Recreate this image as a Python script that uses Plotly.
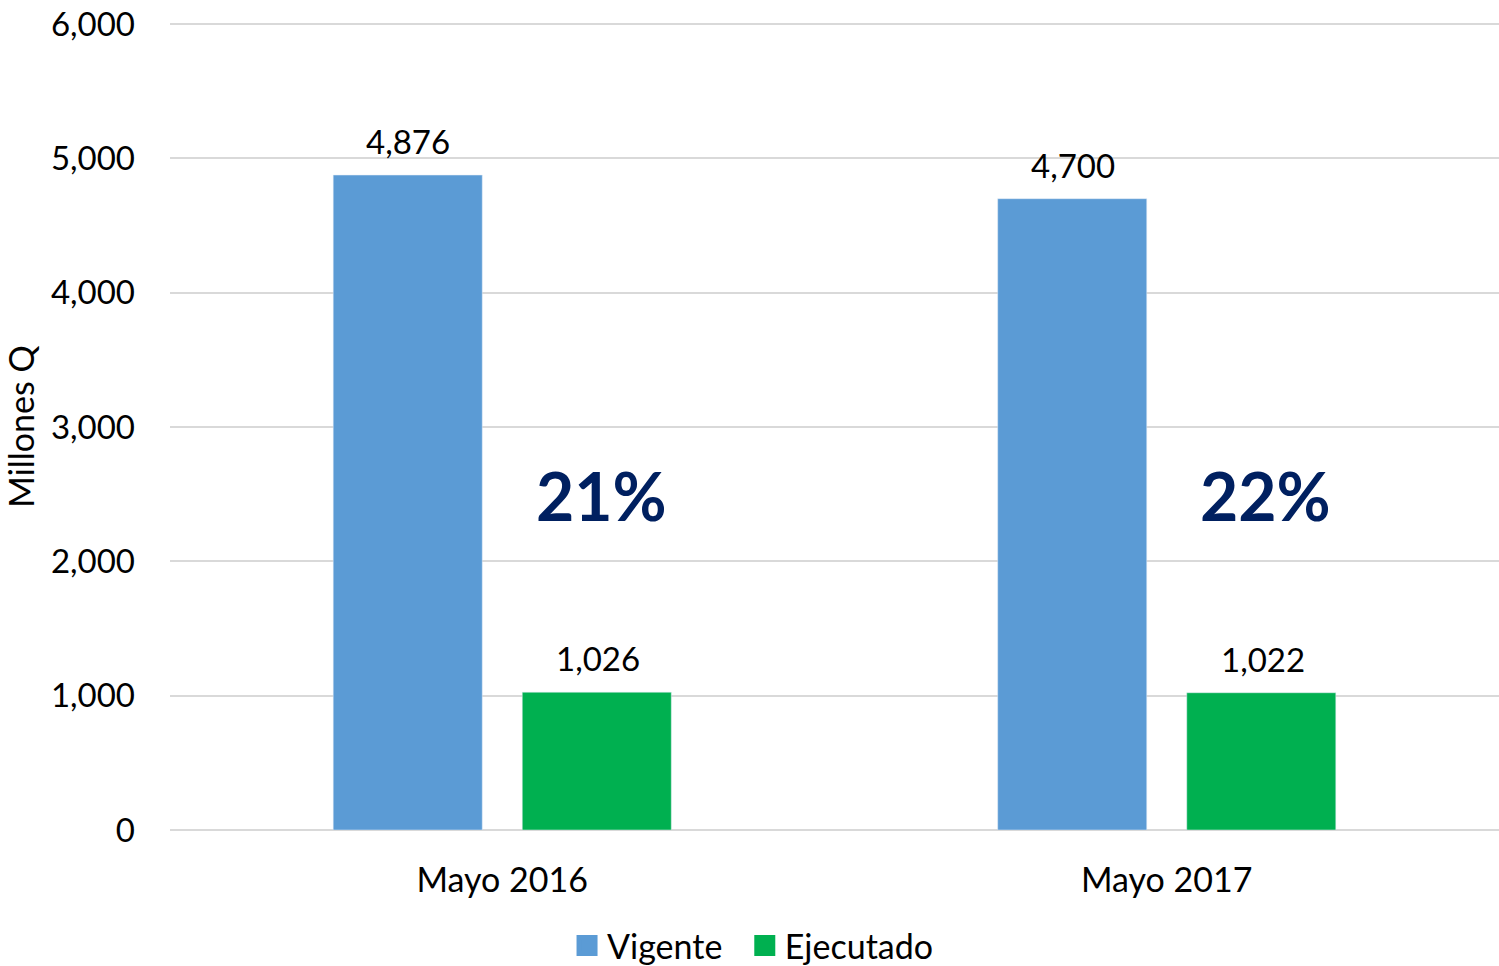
import plotly.graph_objects as go

categories = ["Mayo 2016", "Mayo 2017"]
vigente = [4876, 4700]
ejecutado = [1026, 1022]
percent_labels = ["21%", "22%"]
percent_y = [2490, 2490]

FONT = "Lato"
BLUE = "#5B9BD5"
GREEN = "#00B050"

fig = go.Figure()
fig.add_trace(go.Bar(name="Vigente", x=categories, y=vigente, marker_color=BLUE,
                     showlegend=False))
fig.add_trace(go.Bar(name="Ejecutado", x=categories, y=ejecutado, marker_color=GREEN,
                     showlegend=False))
# legend-only entries with square swatches
for name, col in [("Vigente\u00a0\u00a0", BLUE), ("Ejecutado", GREEN)]:
    fig.add_trace(go.Scatter(
        name=name, x=[None], y=[None], mode="markers",
        marker=dict(symbol="square", size=16, color=col,
                    line=dict(color=col, width=5)),
        showlegend=True,
    ))

# data labels above bars
for series, shift in [(vigente, -94), (ejecutado, 96)]:
    for c, v in zip(categories, series):
        fig.add_annotation(x=c, y=v, text=f"{v:,}", showarrow=False,
                           xshift=shift, yanchor="bottom", yshift=12,
                           font=dict(size=33, color="#000000", family=FONT))

for c, lab, yy in zip(categories, percent_labels, percent_y):
    fig.add_annotation(x=c, y=yy, text=f"<b>{lab}</b>", showarrow=False,
                       xshift=99, font=dict(size=66, color="#002060", family=FONT))

fig.update_layout(
    width=1499, height=966,
    margin=dict(l=170, r=0, t=23, b=136, autoexpand=False),
    paper_bgcolor="white", plot_bgcolor="white",
    barmode="group", bargap=0.431, bargroupgap=0.2116,
    font=dict(family=FONT, size=33, color="#000000"),
    showlegend=True,
    legend=dict(orientation="h", xref="paper", yref="paper",
                x=0.4387, xanchor="center", y=-0.1437, yanchor="middle",
                font=dict(size=34, family=FONT), itemwidth=30,
                itemsizing="trace", tracegroupgap=0),
    yaxis=dict(range=[0, 6008], tickvals=[0, 1000, 2000, 3000, 4000, 5000, 6000],
               tickformat=",d", showgrid=True, gridcolor="#D9D9D9", gridwidth=2,
               zeroline=True, zerolinecolor="#D9D9D9", zerolinewidth=2,
               ticklabelstandoff=34, showline=False, automargin=False,
               title=dict(text="Millones Q", font=dict(size=34, family=FONT), standoff=12),
               tickfont=dict(size=33, family=FONT)),
    xaxis=dict(showline=False, ticklabelstandoff=27, automargin=False,
               tickfont=dict(size=34, family=FONT)),
)

fig.write_html("out.html", config={"displayModeBar": False},
               post_script="document.body.style.margin='0';document.body.style.padding='0';")
